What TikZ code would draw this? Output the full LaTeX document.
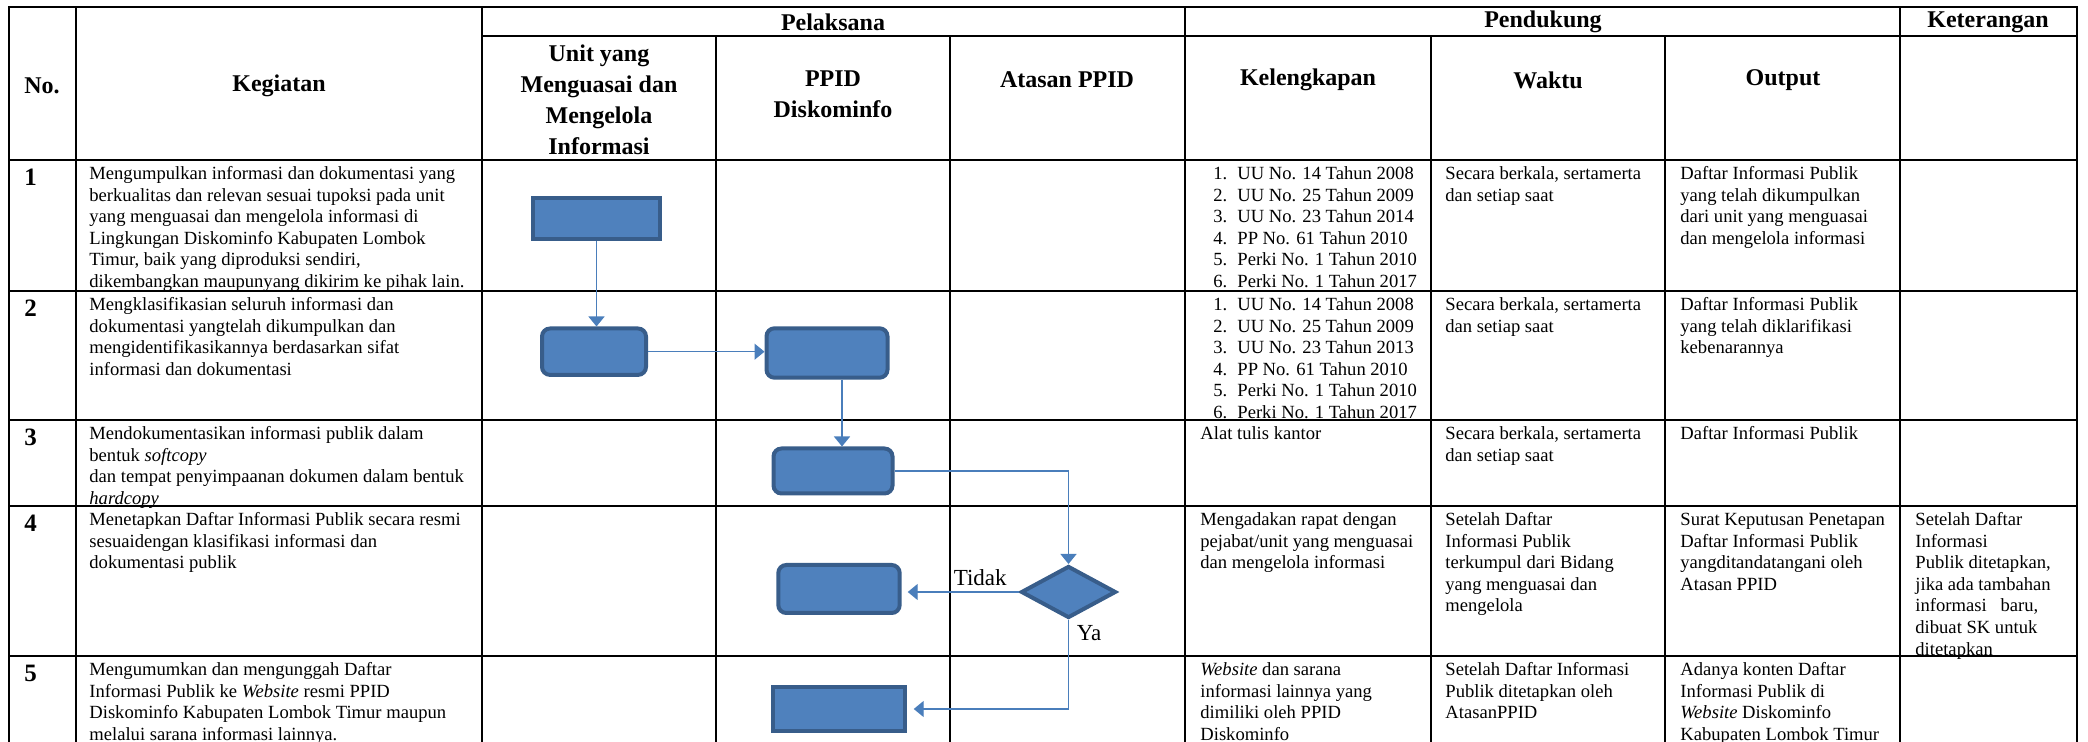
\documentclass[tikz,border=0pt]{standalone}
\usepackage{fontspec}
\setmainfont{Liberation Serif}
\usetikzlibrary{positioning,shapes.geometric,arrows.meta}
\definecolor{boxfill}{RGB}{79,129,189}
\definecolor{boxline}{RGB}{56,93,138}
\definecolor{flowline}{RGB}{74,126,187}
\newcommand{\lnum}[1]{\makebox[12pt][l]{#1.}}
\begin{document}
\begin{tikzpicture}[x=0.5pt,y=-0.5pt,
  grid/.style={line width=1.2pt,line cap=rect},
  hd/.style={font=\bfseries\fontsize{12}{15.5}\selectfont,align=center,inner sep=0pt},
  num/.style={font=\bfseries\fontsize{12.5}{15}\selectfont,anchor=base west,inner sep=0pt},
  cell/.style={font=\fontsize{9.3}{10.8}\selectfont,align=left,anchor=north west,inner sep=0pt},
  lbl/.style={font=\fontsize{11.5}{13}\selectfont,inner sep=0pt},
  act/.style={draw=boxline,fill=boxfill,line width=2pt,inner sep=0pt},
  proc/.style={act,rounded corners=4pt},
  cek/.style={act,diamond},
  flow/.style={-{Triangle[length=5pt,width=8pt]},draw=flowline,line width=0.7pt}]
\useasboundingbox (0,0) rectangle (2088,742);
% tabel
\draw[grid] (9,7) -- (2077,7);
\draw[grid] (482,36) -- (2077,36);
\foreach \y in {160,291,420,506,656}{\draw[grid] (9,\y) -- (2077,\y);}
\foreach \x in {9,76,482,1185,1900,2077}{\draw[grid] (\x,7) -- (\x,742);}
\foreach \x in {716,950,1431,1665}{\draw[grid] (\x,36) -- (\x,742);}
% judul kolom
\node[hd] (no) at (42,86) {No.};
\node[hd] (keg) at (279,86) {Kegiatan};
\node[hd] (pel) at (833,22) {Pelaksana};
\node[hd] (pend) at (1543,22) {Pendukung};
\node[hd] (ket) at (1988,22) {Keterangan};
\node[hd] (unit) at (599,100) {Unit yang\\Menguasai dan\\Mengelola\\Informasi};
\node[hd] (ppid) at (833,94) {PPID\\Diskominfo};
\node[hd] (atasan) at (1067,80) {Atasan PPID};
\node[hd] (lengkap) at (1308,80) {Kelengkapan};
\node[hd] (waktu) at (1548,80) {Waktu};
\node[hd] (output) at (1783,80) {Output};
\foreach \n/\y in {1/160,2/291,3/420,4/506,5/656}{\node[num] (n\n) at (24,\y+26) {\n};}
% kegiatan
\node[cell] (keg1) at (89,164) {\strut Mengumpulkan informasi dan dokumentasi yang\\berkualitas dan relevan sesuai tupoksi pada unit\\yang menguasai dan mengelola informasi di\\Lingkungan Diskominfo Kabupaten Lombok\\Timur, baik yang diproduksi sendiri,\\dikembangkan maupunyang dikirim ke pihak lain.};
\node[cell] (keg2) at (89,295) {\strut Mengklasifikasian seluruh informasi dan\\dokumentasi yangtelah dikumpulkan dan\\mengidentifikasikannya berdasarkan sifat\\informasi dan dokumentasi};
\node[cell] (keg3) at (89,424) {\strut Mendokumentasikan informasi publik dalam\\bentuk \textit{softcopy}\\dan tempat penyimpaanan dokumen dalam bentuk\\\textit{hardcopy}};
\node[cell] (keg4) at (89,510) {\strut Menetapkan Daftar Informasi Publik secara resmi\\sesuaidengan klasifikasi informasi dan\\dokumentasi publik};
\node[cell] (keg5) at (89,660) {\strut Mengumumkan dan mengunggah Daftar\\Informasi Publik ke \textit{Website} resmi PPID\\Diskominfo Kabupaten Lombok Timur maupun\\melalui sarana informasi lainnya.};
% kelengkapan
\node[cell] (lk1) at (1213,164) {\strut\lnum{1}UU No. 14 Tahun 2008\\\lnum{2}UU No. 25 Tahun 2009\\\lnum{3}UU No. 23 Tahun 2014\\\lnum{4}PP No. 61 Tahun 2010\\\lnum{5}Perki No. 1 Tahun 2010\\\lnum{6}Perki No. 1 Tahun 2017};
\node[cell] (lk2) at (1213,295) {\strut\lnum{1}UU No. 14 Tahun 2008\\\lnum{2}UU No. 25 Tahun 2009\\\lnum{3}UU No. 23 Tahun 2013\\\lnum{4}PP No. 61 Tahun 2010\\\lnum{5}Perki No. 1 Tahun 2010\\\lnum{6}Perki No. 1 Tahun 2017};
\node[cell] (lk3) at (1200,424) {\strut Alat tulis kantor};
\node[cell] (lk4) at (1200,510) {\strut Mengadakan rapat dengan\\pejabat/unit yang menguasai\\dan mengelola informasi};
\node[cell] (lk5) at (1200,660) {\strut\textit{Website} dan sarana\\informasi lainnya yang\\dimiliki oleh PPID\\Diskominfo};
% waktu
\foreach \r/\y in {1/164,2/295,3/424}{\node[cell] (wk\r) at (1445,\y) {\strut Secara berkala, sertamerta\\dan setiap saat};}
\node[cell] (wk4) at (1445,510) {\strut Setelah Daftar\\Informasi Publik\\terkumpul dari Bidang\\yang menguasai dan\\mengelola};
\node[cell] (wk5) at (1445,660) {\strut Setelah Daftar Informasi\\Publik ditetapkan oleh\\AtasanPPID};
% output
\node[cell] (out1) at (1680,164) {\strut Daftar Informasi Publik\\yang telah dikumpulkan\\dari unit yang menguasai\\dan mengelola informasi};
\node[cell] (out2) at (1680,295) {\strut Daftar Informasi Publik\\yang telah diklarifikasi\\kebenarannya};
\node[cell] (out3) at (1680,424) {\strut Daftar Informasi Publik};
\node[cell] (out4) at (1680,510) {\strut Surat Keputusan Penetapan\\Daftar Informasi Publik\\yangditandatangani oleh\\Atasan PPID};
\node[cell] (out5) at (1680,660) {\strut Adanya konten Daftar\\Informasi Publik di\\\textit{Website} Diskominfo\\Kabupaten Lombok Timur};
% keterangan
\node[cell] (ket4) at (1915,510) {\strut Setelah Daftar\\Informasi\\Publik ditetapkan,\\jika ada tambahan\\informasi\ \ \ baru,\\dibuat SK untuk\\ditetapkan};
% alur
\node[act, minimum width=63.5pt, minimum height=20.5pt] (kumpul) at (596.5,218.5) {};
\node[proc, minimum width=52pt, minimum height=23.2pt] (klasif) at (594,351.7) {};
\node[proc, minimum width=60.5pt, minimum height=24.7pt] (terima) at (827,353) {};
\node[proc, minimum width=59.5pt, minimum height=22.5pt] (dokumen) at (833,471) {};
\node[cek, minimum width=47.5pt, minimum height=26pt] (tetap) at (1068.5,592) {};
\node[proc, minimum width=60.7pt, minimum height=24pt] (tolak) at (839,589) {};
\node[act, minimum width=65.7pt, minimum height=22.3pt] (umum) at (839,709) {};
\draw[flow] (kumpul.south) -- (kumpul.south |- klasif.north);
\draw[flow] (klasif.east) -- (klasif.east -| terima.west);
\draw[flow] ([xshift=7.5pt]terima.south) -- ([xshift=7.5pt]terima.south |- dokumen.north);
\draw[flow] (dokumen.east) -| (tetap.north);
\draw[flow, shorten >=3pt] (tetap.west) -- (tetap.west -| tolak.east);
\draw[flow, shorten >=3.5pt] (tetap.south) |- (umum.east);
\node[lbl, above left=3pt and 6pt of tetap.west] (tidak) {Tidak};
\node[lbl, below right=2.5pt and 4pt of tetap.south] (ya) {Ya};
\end{tikzpicture}
\end{document}
